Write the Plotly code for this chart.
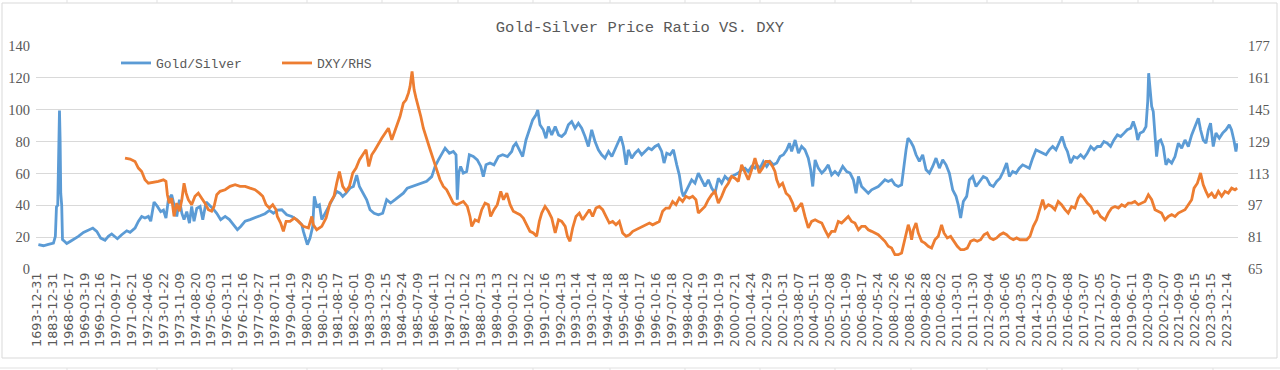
import plotly.graph_objects as go

# ---------------- data ----------------
# category tick labels (one label every N observations on a category axis)
tick_labels = [
    "1693-12-31", "1883-12-31", "1968-06-17", "1969-03-19", "1969-12-16", "1970-09-17",
    "1971-06-21", "1972-04-06", "1973-01-22", "1973-11-09", "1974-08-20", "1975-06-03",
    "1976-03-11", "1976-12-16", "1977-09-27", "1978-07-11", "1979-04-19", "1980-01-29",
    "1980-11-05", "1981-08-17", "1982-06-01", "1983-03-09", "1983-12-15", "1984-09-24",
    "1985-07-09", "1986-04-11", "1987-01-12", "1987-10-12", "1988-07-13", "1989-04-13",
    "1990-01-12", "1990-10-12", "1991-07-16", "1992-04-13", "1993-01-14", "1993-10-14",
    "1994-07-18", "1995-04-18", "1996-01-17", "1996-10-16", "1997-07-18", "1998-04-20",
    "1999-01-19", "1999-10-19", "2000-07-21", "2001-04-24", "2002-01-29", "2002-10-31",
    "2003-08-07", "2004-05-11", "2005-02-08", "2005-11-09", "2006-08-17", "2007-05-24",
    "2008-02-26", "2008-11-26", "2009-08-28", "2010-06-02", "2011-03-01", "2011-11-30",
    "2012-09-04", "2013-06-06", "2014-03-05", "2014-12-03", "2015-09-07", "2016-06-08",
    "2017-03-07", "2017-12-05", "2018-09-07", "2019-06-11", "2020-03-09", "2020-12-07",
    "2021-09-09", "2022-06-15", "2023-03-15", "2023-12-14",
]

# Gold/Silver ratio: (category position in label units, value)
gold_silver = [
    (0.1, 15.3), (0.42, 14.6), (0.73, 15.5), (1.05, 16.3), (1.17, 20.5), (1.24, 39), (1.32, 40),
    (1.38, 72.7), (1.43, 99.5), (1.47, 81), (1.51, 47.6), (1.57, 40), (1.62, 18.4), (1.79, 17),
    (1.89, 16), (2.1, 17.3), (2.31, 18.4), (2.62, 20.5), (2.94, 23), (3.26, 24.7), (3.53, 25.7),
    (3.78, 23.6), (4.03, 19.4), (4.3, 18), (4.51, 20.5), (4.72, 22), (4.93, 19.9), (5.08, 19),
    (5.35, 21.5), (5.67, 24), (5.88, 23), (6.19, 25.7), (6.4, 29.9), (6.61, 33), (6.82, 32),
    (7.03, 33), (7.18, 30), (7.39, 42), (7.6, 39.3), (7.81, 36), (7.98, 37), (8.14, 32),
    (8.29, 43.5), (8.5, 46.6), (8.65, 40.3), (8.82, 33), (8.99, 43.5), (9.14, 35), (9.28, 31),
    (9.45, 36), (9.62, 28.8), (9.76, 39.3), (9.91, 30), (10.08, 38), (10.29, 39.3), (10.46, 31),
    (10.67, 42), (10.88, 40.3), (11.09, 38), (11.34, 35), (11.59, 31), (11.87, 33), (12.14, 31),
    (12.39, 27.8), (12.64, 24.7), (12.85, 26.7), (13.13, 30), (13.44, 31), (13.75, 32),
    (14.07, 33.4), (14.38, 34.7), (14.66, 36.8), (14.91, 35), (15.16, 37),
    (15.44, 37.2), (15.75, 34), (16.07, 33), (16.38, 31), (16.7, 27.8), (16.8, 23.6), (17.05, 15.3),
    (17.22, 19.4), (17.39, 26.8), (17.49, 45.6), (17.64, 39.3), (17.81, 40.3), (17.96, 31),
    (18.17, 35), (18.38, 38.2), (18.65, 43.5), (18.9, 48.7), (19.11, 47.6), (19.28, 45.6),
    (19.49, 47.6), (19.74, 50.8), (19.95, 51.8), (20.16, 59), (20.33, 51.8), (20.54, 47.6),
    (20.79, 43.5), (21.0, 37.2), (21.26, 35), (21.53, 34), (21.8, 35), (22.05, 43.5), (22.3, 41.4),
    (22.58, 43.5), (22.85, 45.6), (23.1, 47.6), (23.35, 50.8), (23.63, 51.8), (23.94, 52.9),
    (24.26, 53.9), (24.57, 55), (24.89, 58), (25.1, 64.4), (25.31, 68.5), (25.52, 72.7),
    (25.73, 75.9), (26.0, 72.7), (26.25, 73.8), (26.42, 71.7), (26.5, 43.5), (26.59, 60.2),
    (26.71, 64.4), (26.88, 60.2), (27.09, 61.2), (27.26, 71.7), (27.51, 70.6), (27.76, 68.5),
    (27.98, 64.4), (28.14, 58), (28.31, 65.4), (28.56, 66.5), (28.81, 65.4), (29.09, 70.6),
    (29.36, 71.7), (29.66, 70.6), (29.93, 73.8),
    (30.03, 76.9), (30.2, 79), (30.41, 74.8), (30.62, 70.6), (30.83, 81), (31.04, 87.4),
    (31.25, 93.6), (31.46, 96.8), (31.57, 99.9), (31.71, 90.5), (31.92, 87.4), (32.09, 82.1),
    (32.24, 89.4), (32.45, 84.2), (32.67, 89.4), (32.88, 84.2), (33.08, 83.2), (33.3, 85.3),
    (33.5, 90.5), (33.71, 92.6), (33.92, 88.4), (34.13, 91.5), (34.34, 88.4), (34.55, 83.2),
    (34.76, 76.9), (34.97, 87.4), (35.18, 80), (35.39, 74.8), (35.6, 71.7), (35.81, 69.6),
    (36.03, 73.8), (36.24, 70.6), (36.44, 74.8), (36.65, 80), (36.8, 83.2), (36.97, 76.9),
    (37.14, 65.4), (37.28, 74.8), (37.49, 69.6), (37.7, 72.7), (37.91, 74.8), (38.12, 71.7),
    (38.34, 73.8), (38.55, 75.9), (38.75, 74.8), (38.96, 76.9), (39.17, 78), (39.38, 73.8),
    (39.53, 66.5), (39.7, 72.7), (39.91, 71.7), (40.12, 74.8), (40.33, 65.4), (40.49, 59.1),
    (40.65, 48.7), (40.75, 45.6), (40.91, 48.7), (41.06, 51.8), (41.27, 56), (41.48, 53.9),
    (41.69, 60.2), (41.9, 56), (42.11, 51.8), (42.32, 56), (42.53, 50.8), (42.74, 47.6),
    (42.95, 57), (43.16, 53.9), (43.37, 58.1), (43.58, 56), (43.79, 58.1), (44.0, 59.1),
    (44.21, 60.2), (44.42, 62.3), (44.63, 63.3), (44.84, 61.2), (45.05, 64.4), (45.26, 63.3),
    (45.37, 65.4), (45.58, 63.3), (45.79, 67.5), (46.0, 64.4), (46.21, 67.5), (46.42, 65.4),
    (46.63, 66.5), (46.84, 70.6), (47.05, 71.7), (47.26, 74.8), (47.43, 79), (47.57, 73.8),
    (47.79, 81), (48.0, 72.7), (48.2, 76.9), (48.41, 74.8), (48.62, 69.6), (48.77, 62.3),
    (48.9, 51.8), (49.05, 68.5), (49.25, 63.3), (49.47, 60.2), (49.67, 62.3), (49.88, 65.4),
    (50.09, 59.1), (50.3, 61.2), (50.51, 59.1), (50.79, 64.4), (51.04, 61.2), (51.25, 60.2),
    (51.46, 56), (51.63, 47.6), (51.78, 58.1), (51.98, 51.8), (52.2, 49.7), (52.4, 47.6),
    (52.61, 49.7), (52.82, 50.8), (53.03, 51.8), (53.24, 53.9), (53.45, 56), (53.66, 55),
    (53.87, 56), (54.08, 52.9), (54.29, 51.8), (54.5, 52.9), (54.65, 66.5), (54.78, 74.8),
    (54.9, 82.1), (55.07, 80), (55.24, 76.9), (55.41, 71.7), (55.62, 67.5), (55.83, 71.7),
    (56.04, 62.3), (56.25, 60.2), (56.46, 64.4), (56.67, 69.6), (56.88, 63.3), (57.09, 68.5),
    (57.3, 65.4), (57.51, 60.2), (57.72, 49.7), (57.93, 45.6), (58.07, 40.3), (58.22, 32),
    (58.39, 42.4), (58.6, 45.6), (58.77, 56), (58.98, 58.1), (59.19, 51.8), (59.44, 55),
    (59.65, 58.1), (59.86, 57),
    (60.07, 52.9), (60.28, 51.8), (60.49, 55), (60.7, 57), (60.91, 61.2), (61.12, 66.5),
    (61.29, 58.1), (61.5, 61.2), (61.71, 60.2), (61.92, 63.3), (62.13, 65.4), (62.34, 64.4),
    (62.55, 63.3), (62.76, 69.6), (62.97, 74.8), (63.18, 73.8), (63.39, 72.7), (63.6, 71.7),
    (63.81, 74.8), (64.02, 76.9), (64.23, 74.8), (64.44, 79), (64.61, 83.2), (64.8, 76.9),
    (64.95, 73.8), (65.15, 66.5), (65.36, 70.6), (65.57, 69.6), (65.78, 71.7), (65.99, 69.6),
    (66.2, 72.7), (66.42, 76.9), (66.63, 74.8), (66.84, 76.9), (67.04, 76.9), (67.25, 80),
    (67.46, 79), (67.67, 76.9), (67.88, 81), (68.1, 84.2), (68.31, 83.2), (68.52, 85.3),
    (68.72, 87.4), (68.94, 88.4), (69.1, 92.6), (69.27, 87.4), (69.38, 81), (69.52, 85.3),
    (69.73, 86.3), (69.9, 89.4), (70.01, 105.1), (70.07, 122.9), (70.15, 112.4), (70.26, 102),
    (70.36, 98.9), (70.47, 81), (70.57, 70.6), (70.68, 80), (70.83, 81), (70.99, 76.9),
    (71.16, 65.4), (71.31, 68.5), (71.52, 66.5), (71.73, 70.6), (71.94, 79), (72.15, 75.9),
    (72.36, 81), (72.57, 76.9), (72.78, 84.2), (72.99, 89.4), (73.2, 94.7), (73.34, 87.4),
    (73.51, 81), (73.68, 79), (73.83, 87.4), (73.97, 91.5), (74.14, 76.9), (74.31, 85.3),
    (74.52, 82.1), (74.73, 85.3), (74.94, 87.4), (75.15, 90.5), (75.29, 87.4), (75.44, 81),
    (75.57, 73.8), (75.65, 79),
]

# DXY (right-hand scale): (category position in label units, value)
dxy = [
    (5.56, 120.7), (5.88, 120.2), (6.19, 119), (6.4, 115.7), (6.61, 114), (6.82, 109.8),
    (7.03, 108.1), (7.35, 108.5), (7.66, 109), (7.98, 109.8), (8.14, 109), (8.23, 102.3),
    (8.35, 98.1), (8.5, 100.6), (8.65, 91.4), (8.82, 98.1), (8.99, 94), (9.14, 99.8),
    (9.28, 108.1), (9.41, 103.1), (9.55, 99.8), (9.76, 97.3), (9.97, 101.5), (10.18, 103.1),
    (10.39, 100.6), (10.6, 98.1), (10.81, 94.8), (11.02, 94), (11.17, 96.4), (11.34, 102.3),
    (11.55, 104), (11.87, 104.8), (12.18, 106.5), (12.5, 107.3), (12.81, 106.5), (13.13, 106.5),
    (13.44, 105.6), (13.75, 104.8), (14.03, 103.1), (14.24, 101.5), (14.45, 97.3), (14.66, 95.6),
    (14.87, 97.3), (15.08, 94.8),
    (15.16, 91.4), (15.37, 88.1), (15.54, 83.9), (15.71, 88.9), (15.96, 88.9), (16.23, 90.6),
    (16.49, 88.9), (16.8, 86.4), (17.12, 85.6), (17.33, 91.4), (17.43, 87.2), (17.64, 84.7),
    (17.96, 86.4), (18.23, 90.6), (18.48, 98.1), (18.73, 101.5), (18.9, 108.1), (19.07, 114),
    (19.28, 106.5), (19.49, 104), (19.7, 106.5), (19.91, 113.2), (20.12, 115.7), (20.33, 119.8),
    (20.54, 122.4), (20.75, 124.9), (20.92, 116.5), (21.11, 122.4), (21.32, 124.9),
    (21.53, 128.2), (21.74, 130.7), (21.95, 133.2), (22.16, 135.7), (22.37, 129.9),
    (22.51, 133.2), (22.68, 136.6), (22.89, 141.6), (23.1, 148.3), (23.27, 150), (23.42, 153.3),
    (23.52, 156.6), (23.65, 164.2), (23.78, 155), (23.9, 150.8), (24.05, 146.6), (24.2, 141.6),
    (24.36, 135.7), (24.57, 129.9), (24.79, 124.9), (25.0, 119.8), (25.2, 114.8), (25.41, 109.8),
    (25.62, 106.5), (25.83, 104.8), (26.04, 101.5), (26.25, 98.1), (26.46, 97.3), (26.67, 98.1),
    (26.88, 98.9), (27.13, 96.4), (27.3, 91.4), (27.41, 86.4), (27.62, 89.7), (27.83, 88.9),
    (28.04, 94.8), (28.25, 98.1), (28.46, 97.3), (28.6, 91.4), (28.81, 94.8), (29.02, 97.3),
    (29.24, 104), (29.41, 99.8), (29.62, 103.1), (29.83, 97.3),
    (30.03, 94), (30.24, 93.1), (30.45, 92.3), (30.66, 90.6), (30.87, 87.2), (31.08, 83.9),
    (31.29, 83.1), (31.5, 81.4), (31.67, 88.9), (31.82, 93.1), (32.03, 96.4), (32.24, 94),
    (32.45, 90.6), (32.67, 83.1), (32.88, 89.7), (33.08, 88.9), (33.3, 86.4), (33.44, 81.4),
    (33.6, 78.9), (33.77, 85.6), (33.98, 91.4), (34.19, 93.1), (34.4, 89.7), (34.61, 92.3),
    (34.82, 94.8), (35.03, 91.4), (35.24, 95.6), (35.45, 96.4), (35.66, 94.8), (35.87, 91.4),
    (36.08, 88.1), (36.29, 88.9), (36.5, 87.2), (36.71, 88.9), (36.92, 83.1), (37.14, 81.4),
    (37.35, 82.2), (37.56, 83.9), (37.77, 84.7), (37.98, 85.6), (38.19, 86.4), (38.4, 87.2),
    (38.61, 88.1), (38.81, 87.2), (39.02, 88.1), (39.23, 88.9), (39.44, 94), (39.65, 95.6),
    (39.86, 95.6), (40.07, 98.9), (40.28, 97.3), (40.49, 100.6), (40.7, 98.9), (40.91, 101.5),
    (41.12, 100.6), (41.33, 101.5), (41.54, 99.8), (41.69, 93.1), (41.9, 94.8), (42.11, 96.4),
    (42.32, 99.8), (42.53, 102.3), (42.74, 104), (42.95, 98.1), (43.16, 101.5), (43.37, 105.6),
    (43.58, 108.1), (43.79, 111.5), (44.0, 110.6), (44.21, 109), (44.42, 117.3), (44.63, 113.2),
    (44.84, 109.8), (45.05, 114.8), (45.26, 120.7),
    (45.53, 113.2), (45.74, 115.7), (45.95, 119), (46.16, 119), (46.37, 116.5), (46.52, 114),
    (46.63, 109.8), (46.79, 106.5), (47.0, 108.1), (47.22, 103.1), (47.43, 101.5), (47.63, 98.1),
    (47.79, 94), (48.0, 96.4), (48.2, 98.1), (48.41, 91.4), (48.62, 85.6), (48.83, 88.9),
    (49.05, 89.7), (49.25, 88.9), (49.47, 88.1), (49.67, 84.7), (49.88, 81.4), (50.09, 83.9),
    (50.3, 83.9), (50.51, 88.9), (50.72, 88.1), (50.93, 89.7), (51.14, 91.4), (51.35, 88.9),
    (51.56, 88.1), (51.78, 84.7), (51.98, 86.4), (52.2, 86.4), (52.4, 84.7), (52.61, 83.9),
    (52.82, 83.1), (53.03, 82.2), (53.24, 80.6), (53.45, 78.9), (53.66, 76.4), (53.87, 75.5),
    (54.08, 72.2), (54.29, 72.2), (54.5, 73), (54.71, 80.6), (54.92, 87.2), (55.02, 84.7),
    (55.13, 79.7), (55.24, 84.7), (55.41, 88.1), (55.55, 83.1), (55.76, 78.9), (55.97, 78),
    (56.18, 76.4), (56.39, 75.5), (56.6, 79.7), (56.81, 81.4), (57.02, 87.2), (57.17, 83.1),
    (57.38, 80.6), (57.59, 81.4), (57.8, 78.9), (58.01, 76.4), (58.22, 74.7), (58.43, 74.7),
    (58.64, 75.5), (58.85, 78.9), (59.06, 79.7), (59.27, 78.9), (59.48, 79.7), (59.69, 82.2),
    (59.9, 83.1),
    (60.07, 80.6), (60.28, 79.7), (60.49, 80.6), (60.7, 82.2), (60.91, 83.1), (61.12, 82.2),
    (61.33, 80.6), (61.54, 79.7), (61.75, 80.6), (61.96, 79.7), (62.17, 79.7), (62.38, 79.7),
    (62.59, 81.4), (62.8, 86.4), (63.01, 89.7), (63.22, 95.6), (63.39, 99.8), (63.54, 95.6),
    (63.75, 97.3), (63.96, 96.4), (64.16, 94.8), (64.37, 98.9), (64.58, 97.3), (64.8, 94.8),
    (65.0, 93.1), (65.21, 96.4), (65.42, 95.6), (65.63, 100.6), (65.78, 102.3), (65.99, 100.6),
    (66.2, 98.1), (66.42, 96.4), (66.63, 93.1), (66.84, 94), (67.04, 91.4), (67.32, 89.7),
    (67.53, 93.1), (67.74, 95.6), (67.95, 96.4), (68.16, 95.6), (68.37, 97.3), (68.58, 96.4),
    (68.79, 98.1), (69.0, 98.1), (69.2, 98.9), (69.42, 97.3), (69.63, 98.1), (69.84, 98.9),
    (70.05, 102.3), (70.26, 99.8), (70.47, 94.8), (70.68, 94), (70.88, 93.1), (71.1, 89.7),
    (71.31, 91.4), (71.52, 92.3), (71.73, 91.4), (71.94, 93.1), (72.15, 94), (72.36, 94.8),
    (72.57, 97.3), (72.78, 99.8), (72.93, 105.6), (73.14, 108.1), (73.34, 113.2), (73.51, 107.3),
    (73.68, 104), (73.83, 101.5), (74.04, 103.1), (74.25, 100.6), (74.46, 104), (74.67, 101.5),
    (74.88, 104), (75.09, 103.1), (75.3, 105.6), (75.51, 104.8), (75.65, 105.6),
]

left_ticks = [0, 20, 40, 60, 80, 100, 120, 140]
right_ticks = [65, 81, 97, 113, 129, 145, 161, 177]

# ---------------- figure ----------------
BLUE = "#5B9BD5"
ORANGE = "#ED7D31"
GREY = "#595959"
GRID = "#D9D9D9"

fig = go.Figure()
fig.add_trace(go.Scatter(
    x=[p for p, _ in gold_silver], y=[v for _, v in gold_silver],
    mode="lines", name="Gold/Silver", line=dict(color=BLUE, width=2.8),
))
fig.add_trace(go.Scatter(
    x=[p for p, _ in dxy], y=[v for _, v in dxy],
    mode="lines", name="DXY/RHS", line=dict(color=ORANGE, width=2.8), yaxis="y2",
))

L, R, T, B = 36, 42, 46, 101
W, H = 1280, 370
pw, ph = W - L - R, H - T - B

def px_x(px):
    return (px - L) / pw

def px_y(py):
    return (H - B - py) / ph

# chart-area border plus the faint worksheet cell lines around it
shapes = [dict(type="rect", xref="paper", yref="paper",
               x0=px_x(2), x1=px_x(1277), y0=px_y(358), y1=px_y(3),
               line=dict(color=GRID, width=1), layer="below"),
          dict(type="line", xref="paper", yref="paper",
               x0=px_x(0), x1=px_x(1280), y0=px_y(368), y1=px_y(368),
               line=dict(color="#E1E1E1", width=1), layer="below")]
for cx in [67, 157, 232, 307, 382, 458, 533, 610, 685, 760, 835, 911, 987, 1062, 1138, 1213]:
    for ya, yb in [(0, 3), (368, 370)]:
        shapes.append(dict(type="line", xref="paper", yref="paper",
                           x0=px_x(cx), x1=px_x(cx), y0=px_y(ya), y1=px_y(yb),
                           line=dict(color="#E1E1E1", width=1), layer="below"))

fig.update_layout(
    width=W, height=H,
    margin=dict(l=L, r=R, t=T, b=B),
    paper_bgcolor="white", plot_bgcolor="white",
    title=dict(text="Gold-Silver Price Ratio VS. DXY", x=0.5, xref="container",
               y=1 - 27 / H, yref="container", xanchor="center", yanchor="middle",
               font=dict(family="Liberation Mono", size=15.5, color=GREY)),
    showlegend=True,
    legend=dict(orientation="h", x=px_x(116), y=px_y(63), xanchor="left", yanchor="middle",
                font=dict(family="Liberation Mono", size=13, color=GREY),
                bgcolor="rgba(0,0,0,0)", entrywidth=116, entrywidthmode="pixels",
                itemwidth=30),
    xaxis=dict(tickmode="array", tickvals=list(range(len(tick_labels))), ticktext=tick_labels,
               tickangle=-90, range=[-0.05, 75.7], showgrid=False, zeroline=False,
               showline=False, ticks="", automargin=False,
               tickfont=dict(family="DejaVu Sans", size=12.8, color=GREY)),
    yaxis=dict(range=[0, 140], tickvals=left_ticks, gridcolor=GRID, gridwidth=1,
               zeroline=False, showline=False, ticks="", automargin=False,
               ticklabelstandoff=5,
               tickfont=dict(family="Liberation Serif", size=14.5, color=GREY)),
    yaxis2=dict(range=[65, 177], tickvals=right_ticks, overlaying="y", side="right",
                showgrid=False, zeroline=False, showline=False, ticks="", automargin=False,
                ticklabelstandoff=9,
                tickfont=dict(family="Liberation Serif", size=14.5, color=GREY)),
    shapes=shapes,
)

fig.write_html("out.html", config={"displayModeBar": False},
               post_script="document.body.style.margin='0px';")
